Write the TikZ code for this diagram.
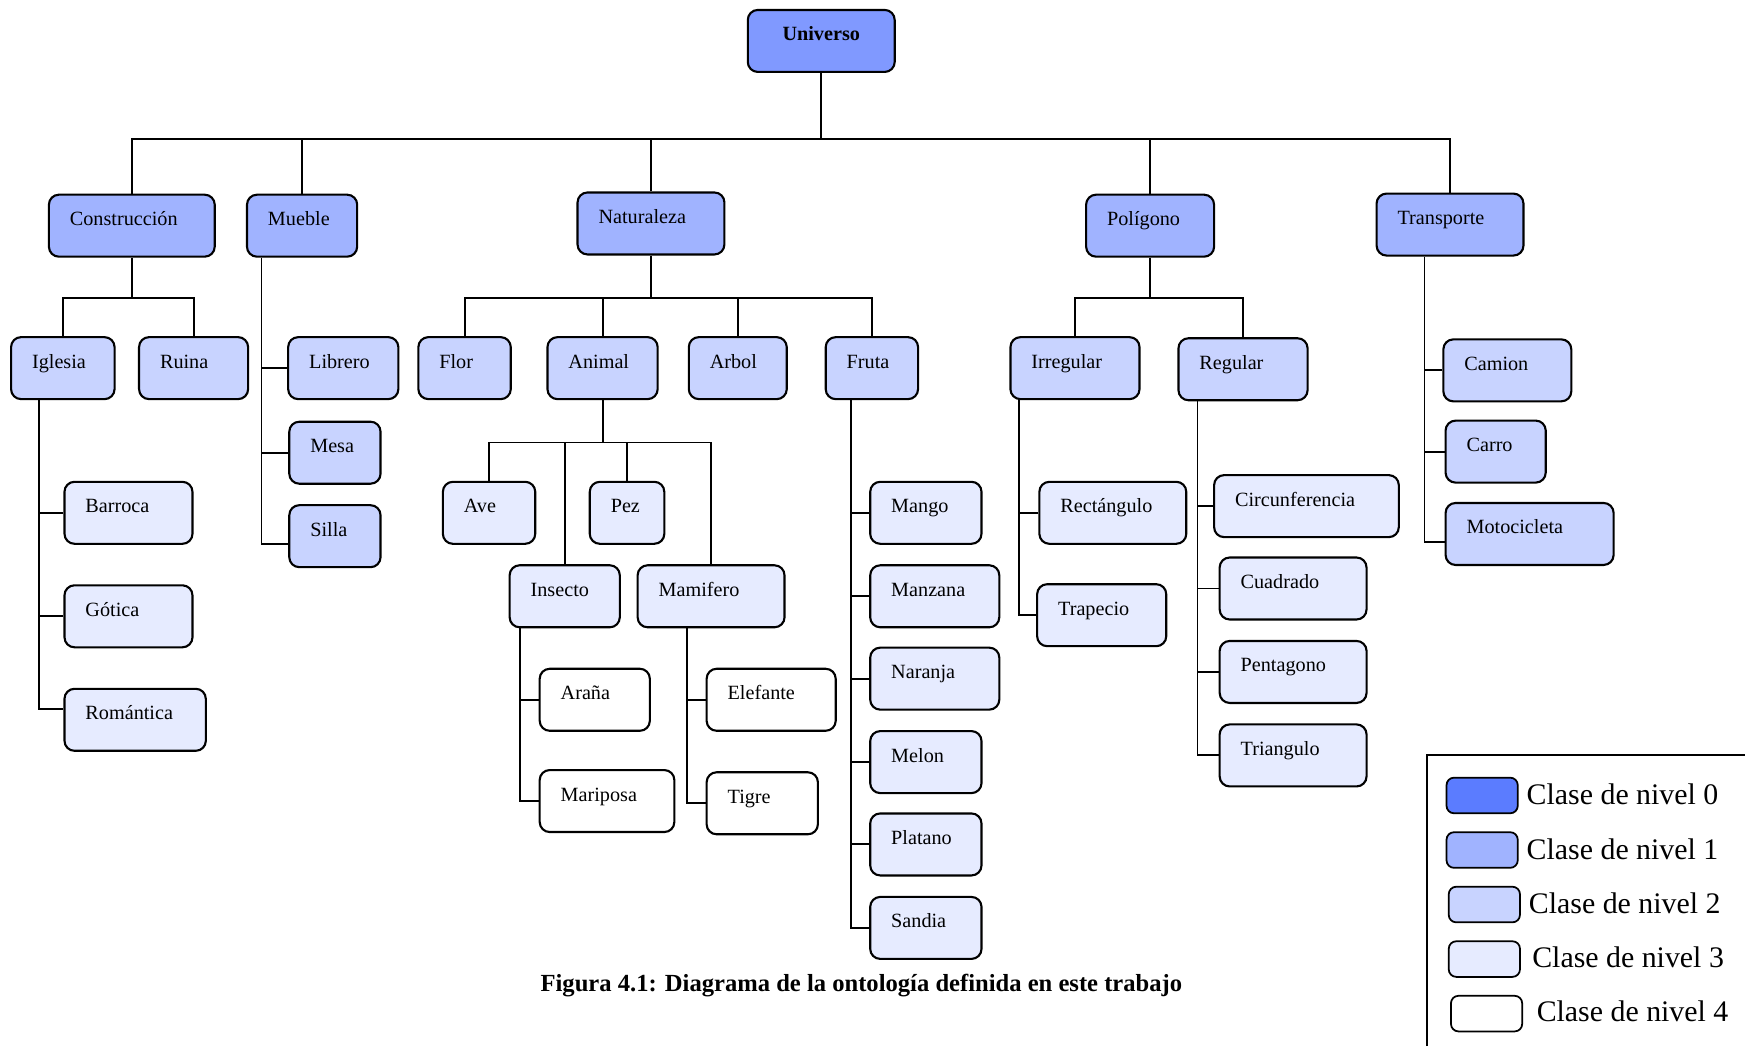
\documentclass[tikz,border=0pt]{standalone}
\usepackage{fontspec}
\setmainfont{Liberation Serif}
\definecolor{nivelcero}{RGB}{91,124,255}
\definecolor{universocol}{RGB}{128,153,255}
\definecolor{niveluno}{RGB}{160,179,255}
\definecolor{niveldos}{RGB}{200,211,255}
\definecolor{niveltres}{RGB}{230,235,255}
\tikzset{
  clase/.style={draw, line width=1.2pt, rounded corners=0.2cm, anchor=north west,
    inner xsep=0.42cm, inner ysep=0pt, text height=0.62cm, text depth=0.62cm,
    align=left, font=\fontsize{11.5}{13}\selectfont},
  ancho/.style={text width=#1*0.02226cm-0.84cm},
  nivel1/.style={clase, fill=niveluno},
  nivel2/.style={clase, fill=niveldos},
  nivel3/.style={clase, fill=niveltres},
  nivel4/.style={clase, fill=white},
  muestra/.style={draw, line width=1pt, rounded corners=0.15cm, anchor=north west,
    minimum width=64*0.02226cm, minimum height=32*0.02226cm, inner sep=0pt},
  leyenda/.style={anchor=base west, inner sep=0pt, font=\fontsize{17}{20}\selectfont},
}
\begin{document}
\begin{tikzpicture}[x=0.02226cm, y=-0.02226cm, line width=1.1pt]
\useasboundingbox (0,0) rectangle (1568,940);

% Nivel 0
\node[clase, fill=universocol, ancho=132, align=center,
  font=\fontsize{11.5}{13}\selectfont\bfseries] (universo) at (671,8) {Universo};

% Nivel 1
\node[nivel1, ancho=149] (construccion) at (43,174) {Construcción};
\node[nivel1, ancho=99] (mueble) at (221,174) {Mueble};
\node[nivel1, ancho=132] (naturaleza) at (518,172) {Naturaleza};
\node[nivel1, ancho=115] (poligono) at (975,174) {Polígono};
\node[nivel1, ancho=132] (transporte) at (1236,173) {Transporte};

% Nivel 2
\node[nivel2, ancho=93] (iglesia) at (9,302) {Iglesia};
\node[nivel2, ancho=98] (ruina) at (124,302) {Ruina};
\node[nivel2, ancho=99] (librero) at (258,302) {Librero};
\node[nivel2, ancho=82] (mesa) at (259,378) {Mesa};
\node[nivel2, ancho=82] (silla) at (259,453) {Silla};
\node[nivel2, ancho=83] (flor) at (375,302) {Flor};
\node[nivel2, ancho=99] (animal) at (491,302) {Animal};
\node[nivel2, ancho=88] (arbol) at (618,302) {Arbol};
\node[nivel2, ancho=83] (fruta) at (741,302) {Fruta};
\node[nivel2, ancho=116] (irregular) at (907,302) {Irregular};
\node[nivel2, ancho=116] (regular) at (1058,303) {Regular};
\node[nivel2, ancho=115] (camion) at (1296,304) {Camion};
\node[nivel2, ancho=90] (carro) at (1298,377) {Carro};
\node[nivel2, ancho=151] (motocicleta) at (1298,451) {Motocicleta};

% Nivel 3
\node[nivel3, ancho=115] (barroca) at (57,432) {Barroca};
\node[nivel3, ancho=115] (gotica) at (57,525) {Gótica};
\node[nivel3, ancho=127] (romantica) at (57,618) {Romántica};
\node[nivel3, ancho=83] (ave) at (397,432) {Ave};
\node[nivel3, ancho=67] (pez) at (529,432) {Pez};
\node[nivel3, ancho=99] (insecto) at (457,507) {Insecto};
\node[nivel3, ancho=132] (mamifero) at (572,507) {Mamifero};
\node[nivel3, ancho=100] (mango) at (781,432) {Mango};
\node[nivel3, ancho=116] (manzana) at (781,507) {Manzana};
\node[nivel3, ancho=116] (naranja) at (781,581) {Naranja};
\node[nivel3, ancho=100] (melon) at (781,656) {Melon};
\node[nivel3, ancho=100] (platano) at (781,730) {Platano};
\node[nivel3, ancho=100] (sandia) at (781,805) {Sandia};
\node[nivel3, ancho=132] (rectangulo) at (933,432) {Rectángulo};
\node[nivel3, ancho=116] (trapecio) at (931,524) {Trapecio};
\node[nivel3, ancho=166] (circunferencia) at (1090,426) {Circunferencia};
\node[nivel3, ancho=132] (cuadrado) at (1095,500) {Cuadrado};
\node[nivel3, ancho=132] (pentagono) at (1095,575) {Pentagono};
\node[nivel3, ancho=132] (triangulo) at (1095,650) {Triangulo};

% Nivel 4
\node[nivel4, ancho=99] (arana) at (484,600) {Araña};
\node[nivel4, ancho=121] (mariposa) at (484,691) {Mariposa};
\node[nivel4, ancho=116] (elefante) at (634,600) {Elefante};
\node[nivel4, ancho=100] (tigre) at (634,693) {Tigre};

% Conexiones
\draw (universo.south) -- ++(0,59) coordinate (b0);
\draw (construccion.north) |- (b0) -| (transporte.north);
\draw (mueble.north) -- (mueble.north |- b0);
\draw (naturaleza.north) -- (naturaleza.north |- b0);
\draw (poligono.north) -- (poligono.north |- b0);

\draw (construccion.south) -- ++(0,36) coordinate (b1);
\draw (iglesia.north) |- (b1) -| (ruina.north);
\path (iglesia.south west) ++(26,0) coordinate (t1);
\draw (t1) |- ([yshift=10*0.02226cm]romantica.west);
\draw (barroca.west) -- (barroca.west -| t1);
\draw (gotica.west) -- (gotica.west -| t1);

\path (mueble.south west) ++(14,0) coordinate (t2);
\draw (t2) |- ([yshift=-7*0.02226cm]silla.west);
\draw (librero.west) -- (librero.west -| t2);
\draw (mesa.west) -- (mesa.west -| t2);

\draw (naturaleza.south) -- ++(0,38) coordinate (b2);
\draw (flor.north) |- (b2) -| (fruta.north);
\draw (animal.north) -- (animal.north |- b2);
\draw (arbol.north) -- (arbol.north |- b2);

\draw (animal.south) -- ++(0,38) coordinate (b3);
\draw (ave.north) |- (b3) -| (mamifero.north);
\draw (insecto.north) -- (insecto.north |- b3);
\draw (pez.north) -- (pez.north |- b3);

\path (insecto.south west) ++(10,0) coordinate (t3);
\draw (t3) |- (mariposa.west);
\draw (arana.west) -- (arana.west -| t3);
\path (mamifero.south west) ++(45,0) coordinate (t4);
\draw (t4) |- (tigre.west);
\draw (elefante.west) -- (elefante.west -| t4);

\path (fruta.south west) ++(24,0) coordinate (t5);
\draw (t5) |- (sandia.west);
\foreach \h in {mango,manzana,naranja,melon,platano}
  \draw (\h.west) -- (\h.west -| t5);

\draw (poligono.south) -- ++(0,36) coordinate (b4);
\draw (irregular.north) |- (b4) -| (regular.north);
\path (irregular.south west) ++(9,0) coordinate (t6);
\draw (t6) |- (trapecio.west);
\draw (rectangulo.west) -- (rectangulo.west -| t6);
\path (regular.south west) ++(18,0) coordinate (t7);
\draw (t7) |- (triangulo.west);
\foreach \h in {circunferencia,cuadrado,pentagono}
  \draw (\h.west) -- (\h.west -| t7);

\path (transporte.south west) ++(44,0) coordinate (t8);
\draw (t8) |- ([yshift=-7*0.02226cm]motocicleta.west);
\draw (camion.west) -- (camion.west -| t8);
\draw (carro.west) -- (carro.west -| t8);

% Leyenda
\draw (1282,940) |- (1568,678);
\foreach \i/\x/\y/\c/\tx/\ty in {0/1299/698/nivelcero/1371/723,
    1/1299/747/niveluno/1371/772, 2/1301/796/niveldos/1373/821,
    3/1301/845/niveltres/1376/869, 4/1303/894/white/1380/918}{
  \node[muestra, fill=\c] (caja\i) at (\x,\y) {};
  \node[leyenda] (texto\i) at (\tx,\ty) {Clase de nivel \i};
}

% Titulo
\node[anchor=base, inner sep=0pt, font=\fontsize{14}{16}\selectfont\bfseries] (titulo) at (774,891)
  {Figura 4.1: Diagrama de la ontología definida en este trabajo};
\end{tikzpicture}
\end{document}
